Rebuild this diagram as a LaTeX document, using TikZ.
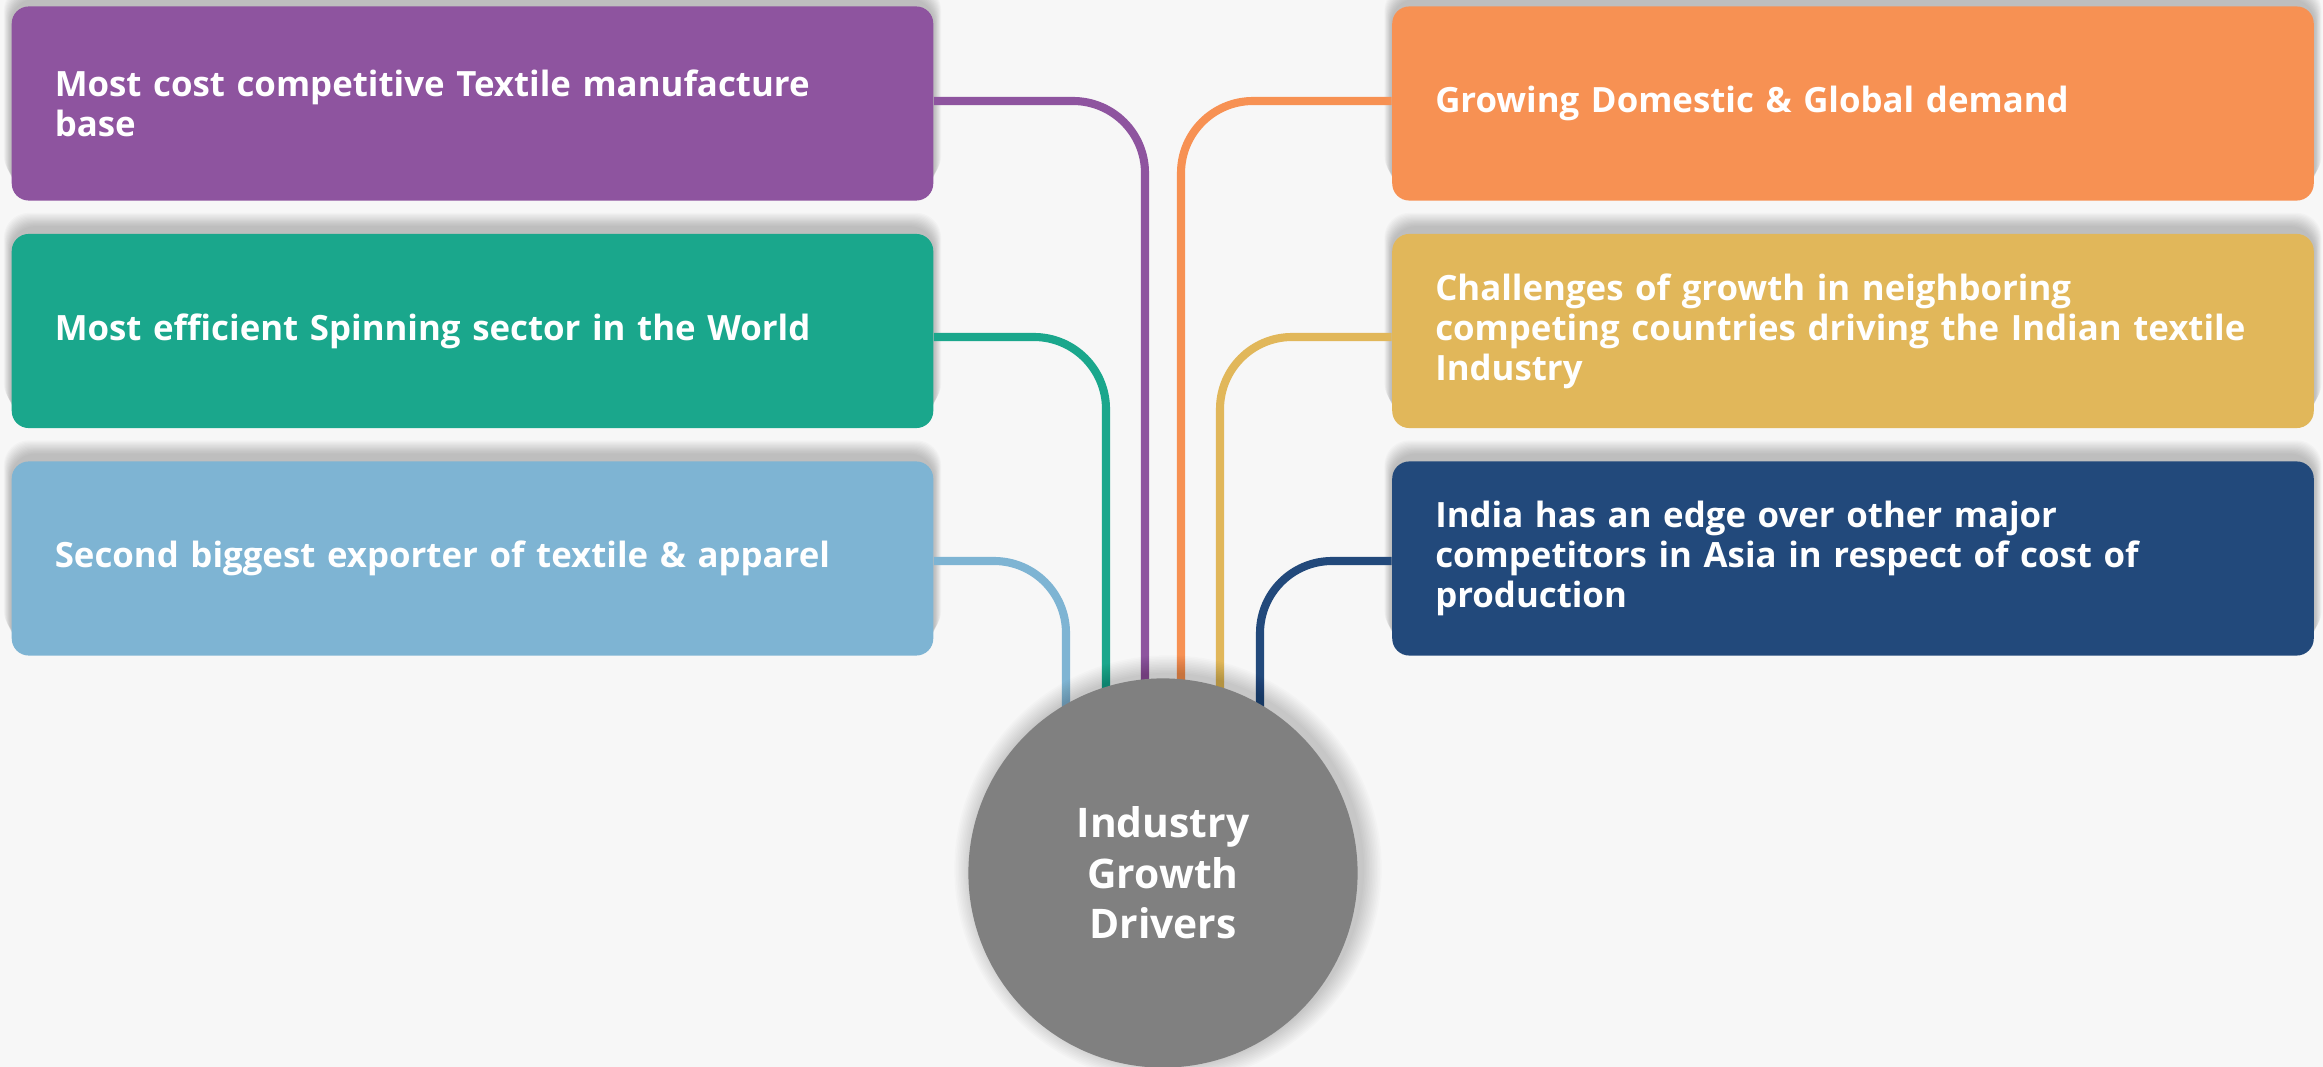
\documentclass[tikz,border=0pt]{standalone}
\usepackage{fontspec}
\setmainfont{Open Sans}
\usetikzlibrary{calc,backgrounds}
\definecolor{bg}{HTML}{F7F7F7}
\definecolor{cpurple}{HTML}{8E549F}
\definecolor{cteal}{HTML}{1AA78C}
\definecolor{clblue}{HTML}{7EB4D3}
\definecolor{corange}{HTML}{F79153}
\definecolor{cyellow}{HTML}{E1B75A}
\definecolor{cnavy}{HTML}{22497B}
\definecolor{cgray}{HTML}{808080}
\begin{document}
\begin{tikzpicture}[x=0.01cm,y=-0.01cm,
  box/.style={rectangle, rounded corners=0.17cm, minimum width=9.21cm, minimum height=1.94cm,
    text width=8.35cm, inner xsep=0.43cm, inner ysep=0pt, align=left, text=white,
    font=\fontsize{9.9}{11.4}\selectfont\bfseries},
  link/.style={line width=2.3pt, rounded corners=0.72cm},
  hub/.style={circle, fill=cgray, minimum size=3.89cm, inner sep=0pt, text=white, align=center,
    font=\fontsize{11.6}{14.4}\selectfont\bfseries},
  boxshadow/.style={fill=black, opacity=0.018, rounded corners=0.25cm}]
\useasboundingbox (0,0) rectangle (2323,1067);
% boxes
\node[box, fill=cpurple] (b1) at (472.5,103.5) {Most cost competitive Textile manufacture\\base};
\node[box, fill=cteal]   (b2) at (472.5,331) {Most efficient Spinning sector in the World};
\node[box, fill=clblue]  (b3) at (472.5,558.5) {Second biggest exporter of textile \& apparel};
\node[box, fill=corange] (b4) at (1853,103.5) {Growing Domestic \& Global demand};
\node[box, fill=cyellow] (b5) at (1853,331) {Challenges of growth in neighboring\\competing countries driving the Indian textile\\Industry};
\node[box, fill=cnavy]   (b6) at (1853,558.5) {India has an edge over other major\\competitors in Asia in respect of cost of\\production};
% hub
\node[hub] (c) at (1163,873) {Industry\\Growth\\Drivers};
\begin{pgfonlayer}{background}
  \fill[bg] (0,0) rectangle (2323,1067);
  % soft shadows above the boxes
  \foreach \b in {b1,b2,b3,b4,b5,b6}{
    \foreach \i in {1,...,12}{
      \fill[boxshadow] ($(\b.south west)+(-0.6*\i,-6-1.2*\i)$) rectangle ($(\b.north east)+(0.6*\i,-6-1.2*\i)$);
    }
  }
  % connectors
  \draw[link, cpurple] ($(b1.east)+(0,-2.5)$) -| ($(c.center)+(-18,0)$);
  \draw[link, cteal]   ($(b2.east)+(0,6)$) -| ($(c.center)+(-57,0)$);
  \draw[link, clblue]  ($(b3.east)+(0,2.5)$) -| ($(c.center)+(-97,0)$);
  \draw[link, corange] ($(b4.west)+(0,-2.5)$) -| ($(c.center)+(18,0)$);
  \draw[link, cyellow] ($(b5.west)+(0,6)$) -| ($(c.center)+(57,0)$);
  \draw[link, cnavy]   ($(b6.west)+(0,2.5)$) -| ($(c.center)+(97,0)$);
  % soft shadow of the hub
  \foreach \i in {1,...,12}{
    \fill[black, opacity=0.016] ($(c.center)+(5,-4)$) circle[radius=194.5+1.6*\i];
  }
\end{pgfonlayer}
\end{tikzpicture}
\end{document}
